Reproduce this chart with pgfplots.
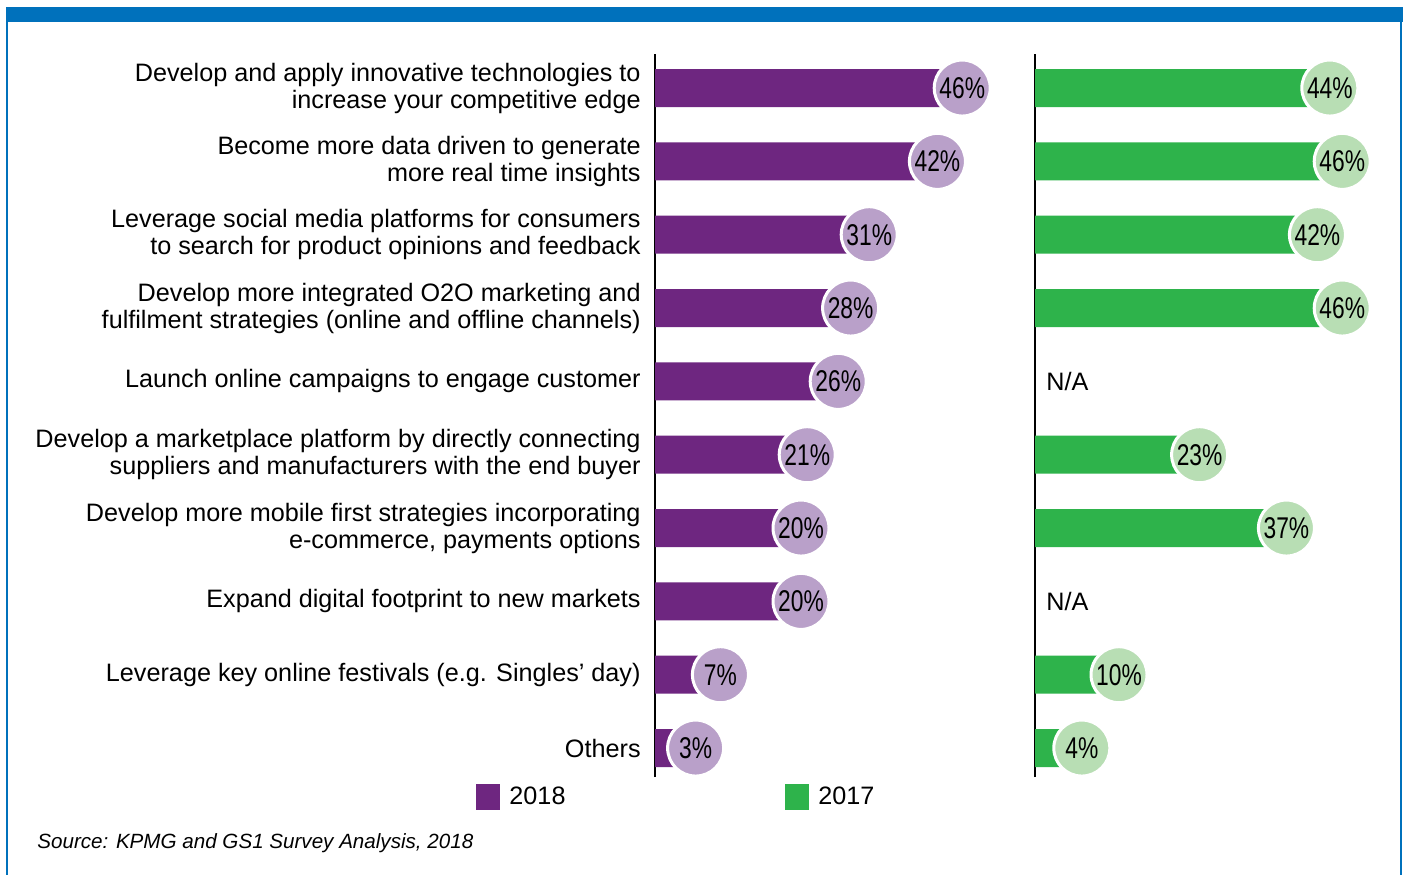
\documentclass[border=0pt]{standalone}
\usepackage{pgfplots}
\pgfplotsset{compat=1.18}
\usepackage{pgfplotstable}
\usepackage{graphicx}
\usepackage{fontspec}
\setmainfont{Liberation Sans}
\definecolor{kpurple}{RGB}{110,38,128}
\definecolor{klpurple}{RGB}{185,160,201}
\definecolor{kgreen}{RGB}{46,179,75}
\definecolor{klgreen}{RGB}{184,222,180}
\definecolor{kblue}{RGB}{0,113,188}
\newcommand\labelfont{\fontsize{12.6}{13.5}\selectfont}
\newcommand\pctfont{\fontsize{15}{15}\selectfont}

% 2018 (y = 9 is the top row)
\pgfplotstableread{
y v
9 46
8 42
7 31
6 28
5 26
4 21
3 20
2 20
1 7
0 3
}\dataA
% 2017
\pgfplotstableread{
y v
9 44
8 46
7 42
6 46
5 nan
4 23
3 37
2 nan
1 10
0 4
}\dataB

\pgfplotsset{
  panel/.style={
    scale only axis, width=186pt, height=361.5pt,
    xmin=0, xmax=60, ymin=-0.395, ymax=9.464,
    axis x line=none, axis y line=left,
    y axis line style={-, line width=1pt, black},
    ytick={0,...,9}, major tick length=0pt,
    clip=false, anchor=center,
    unbounded coords=discard,
    legend style={draw=none, fill=none, inner sep=0pt, font=\labelfont, anchor=west,
      /tikz/every odd column/.append style={column sep=2.5pt}},
  },
  circ/.style={only marks, mark=*, mark size=14pt,
    mark options={fill=#1, draw=white, line width=1.5pt},
    point meta=explicit symbolic,
    nodes near coords={\scalebox{0.76}[1]{\pgfplotspointmeta\%}},
    every node near coord/.style={anchor=center, font=\pctfont, text=black, inner sep=0pt},
    forget plot},
  sqlegend/.style={legend image code/.code={\fill[##1] (0pt,-6.5pt) rectangle (12pt,6.5pt);}},
}

\begin{document}
\begin{tikzpicture}
\begin{scope}[x=0.5pt,y=-0.5pt]
  \fill[white] (0,0) rectangle (1407,875);
  \fill[kblue] (6,7) rectangle (1403,22);
  \fill[kblue] (6,7) rectangle (8,875);
  \fill[kblue] (1400,7) rectangle (1402,875);
  \node[anchor=west, inner sep=0pt, font=\fontsize{10.3}{12}\selectfont\itshape] at (37,843) {Source: KPMG and GS1 Survey Analysis, 2018};
\end{scope}

\begin{axis}[panel, at={(420.5pt,-207.75pt)},
  yticklabels={{Others},
    {Leverage key online festivals (e.g. Singles’ day)},
    {Expand digital footprint to new markets},
    {Develop more mobile first strategies incorporating\\e-commerce, payments options},
    {Develop a marketplace platform by directly connecting\\suppliers and manufacturers with the end buyer},
    {Launch online campaigns to engage customer},
    {Develop more integrated O2O marketing and\\fulfilment strategies (online and offline channels)},
    {Leverage social media platforms for consumers\\to search for product opinions and feedback},
    {Become more data driven to generate\\more real time insights},
    {Develop and apply innovative technologies to\\increase your competitive edge}},
  yticklabel style={align=right, font=\labelfont, inner xsep=0pt, xshift=-7pt},
  legend style={at={(axis description cs:-0.481,-0.0277)}},
]
\addplot[xbar, bar width=19pt, fill=kpurple, draw=none, sqlegend] table[x=v, y=y] {\dataA};
\addlegendentry{2018}
\addplot[circ=klpurple] table[x expr=\thisrow{v}+3.55, y=y, meta=v] {\dataA};
\end{axis}

\begin{axis}[panel, at={(610.5pt,-207.75pt)},
  yticklabels={},
  legend style={at={(axis description cs:-0.672,-0.0277)}},
]
\addplot[xbar, bar width=19pt, fill=kgreen, draw=none, sqlegend] table[x=v, y=y] {\dataB};
\addlegendentry{2017}
\addplot[circ=klgreen] table[x expr=\thisrow{v}+3.55, y=y, meta=v] {\dataB};
\node[anchor=west, inner sep=0pt, font=\labelfont] at (axis cs:1.77,5) {N/A};
\node[anchor=west, inner sep=0pt, font=\labelfont] at (axis cs:1.77,2) {N/A};
\end{axis}

\pgfresetboundingbox
\path (0,0) rectangle (703.5pt,-437.5pt);
\end{tikzpicture}
\end{document}
